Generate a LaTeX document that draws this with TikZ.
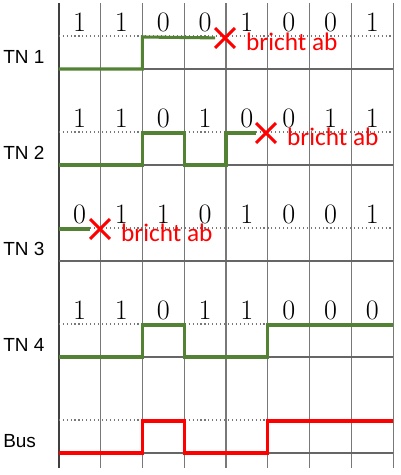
\documentclass[tikz,border=0pt]{standalone}
\usepackage{fontspec}
\usetikzlibrary{shapes.misc}
\newfontfamily\labelfont{Liberation Sans}
\newfontfamily\notefont{Carlito}
\definecolor{signalgreen}{RGB}{84,130,53}
\definecolor{gridgray}{RGB}{120,120,120}
\tikzset{
  bit/.style={font=\fontsize{20}{20}\selectfont, inner sep=0pt},
  tnlabel/.style={font=\labelfont\fontsize{13.5}{14}\selectfont, anchor=west, inner sep=0pt},
  abort/.style={cross out, draw=red, line width=2.1pt, minimum size=0.42cm, inner sep=0pt},
  note/.style={text=red, font=\notefont\fontsize{18}{20}\selectfont, anchor=west, inner sep=0pt},
  wave/.style={line width=2.2pt, signalgreen},
}
\begin{document}
\begin{tikzpicture}[x=0.025cm, y=-0.025cm]
  \useasboundingbox (0,0) rectangle (401,475);
  % grid: one column per bit
  \foreach \i in {1,...,8}
    \draw[gridgray, line width=0.9pt] ({58.7+41.83*\i},3) -- ({58.7+41.83*\i},468);
  \draw[black!75, line width=1.3pt] (58.7,3) -- (58.7,468);
  \foreach \low in {69,165,261,357,453} {
    \draw[gridgray, dotted, line width=0.8pt] (58.7,{\low-33}) -- (393.3,{\low-33});
    \draw[black!60, line width=1pt] (58.7,\low) -- (393.3,\low);
  }
  % labels
  \foreach \row/\name in {1/TN 1, 2/TN 2, 3/TN 3, 4/TN 4, 5/Bus}
    \node[tnlabel] (lab\row) at (3,{96*\row-39}) {\name};
  % bits
  \foreach \row/\bits in {1/{1,1,0,0,1,0,0,1}, 2/{1,1,0,1,0,0,1,1},
                          3/{0,1,1,0,1,0,0,1}, 4/{1,1,0,1,1,0,0,0}}
    \foreach \b [count=\k from 0] in \bits
      \node[bit] (b\row-\k) at ({58.7+41.83*(\k+0.5)},{96*\row-74}) {\b};
  % where a sender stops
  \node[abort] (abort1) at (225,38) {};
  \node[abort] (abort2) at (266,133) {};
  \node[abort] (abort3) at (100,229) {};
  \foreach \n in {1,2,3}
    \node[note] (note\n) at ([shift={(11,4)}]abort\n.east) {bricht ab};
  % signals
  \draw[wave] (58.7,69) -- (142.4,69) -- (142.4,37) -- (abort1);
  \draw[wave] (58.7,165) -- (142.4,165) -- (142.4,133) -- (184.2,133) -- (184.2,165)
    -- (226,165) -- (226,133) -- (abort2);
  \draw[wave] (58.7,229) -- (abort3);
  \draw[wave] (58.7,357) -- (142.4,357) -- (142.4,325) -- (184.2,325) -- (184.2,357)
    -- (267.9,357) -- (267.9,325) -- (393.3,325);
  \draw[wave, red] (58.7,453) -- (142.4,453) -- (142.4,421) -- (184.2,421) -- (184.2,453)
    -- (267.9,453) -- (267.9,421) -- (393.3,421);
\end{tikzpicture}
\end{document}
